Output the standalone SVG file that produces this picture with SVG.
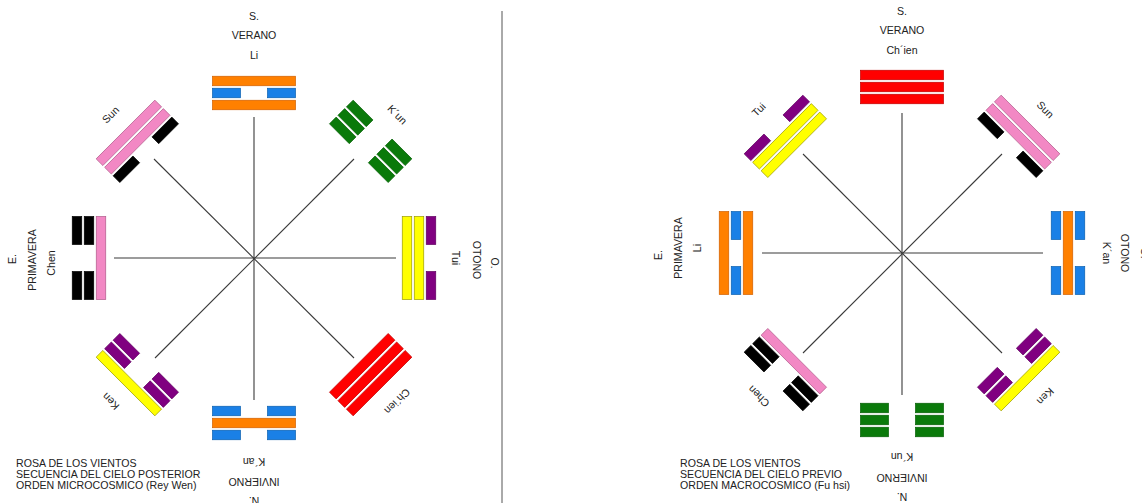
<svg xmlns="http://www.w3.org/2000/svg" xmlns:xlink="http://www.w3.org/1999/xlink" width="1142" height="503" viewBox="0 0 1142 503">
<style>
text{font-family:"Liberation Sans",Arial,sans-serif;font-size:10.6px;fill:#222;}
.lbl{text-anchor:middle;}
.spoke{stroke:#3a3a3a;stroke-width:1.1;fill:none;}
.or{fill:#FF8000;stroke:#D06000;stroke-width:0.7;}
.bl{fill:#1A80E6;stroke:#0A60B0;stroke-width:0.7;}
.pk{fill:#F288C4;stroke:#B05A8A;stroke-width:0.7;}
.bk{fill:#000;stroke:#000;stroke-width:0.7;}
.ye{fill:#FFFF00;stroke:#9A9A00;stroke-width:0.7;}
.pu{fill:#800080;stroke:#600060;stroke-width:0.7;}
.rd{fill:#FF0000;stroke:#C00000;stroke-width:0.7;}
.gr{fill:#0A7A0A;stroke:#066006;stroke-width:0.7;}
</style>
<defs>
<g id="yang"><rect x="-41.5" y="-4.75" width="83" height="9.5"/></g>
<g id="yin"><rect x="-41.5" y="-4.75" width="28" height="9.5"/><rect x="13.5" y="-4.75" width="28" height="9.5"/></g>
</defs>
<rect width="1142" height="503" fill="#fff"/>
<line x1="502" y1="11" x2="502" y2="503" stroke="#555" stroke-width="1"/>

<g id="connectors">
<g transform="translate(254,258)">
<line class="spoke" x1="0" y1="-141" x2="0" y2="142"/>
<line class="spoke" x1="-140" y1="0" x2="142" y2="0"/>
<line class="spoke" x1="-100" y1="-99" x2="100" y2="100"/>
<line class="spoke" x1="100" y1="-99" x2="-99" y2="100"/>
</g>
<g transform="translate(902,253)">
<line class="spoke" x1="0" y1="-140" x2="0" y2="142"/>
<line class="spoke" x1="-140" y1="0" x2="141" y2="0"/>
<line class="spoke" x1="-99" y1="-99" x2="100" y2="100"/>
<line class="spoke" x1="100" y1="-99" x2="-99" y2="100"/>
</g>
</g>

<!-- Left diagram: King Wen -->
<g id="L-li" transform="translate(254,258) rotate(0) translate(0,-165)">
<use xlink:href="#yang" class="or" y="-12"/><use xlink:href="#yin" class="bl" y="0"/><use xlink:href="#yang" class="or" y="12"/>
</g>
<g id="L-kun" transform="translate(254,258) rotate(45) translate(0,-165)">
<use xlink:href="#yin" class="gr" y="-12"/><use xlink:href="#yin" class="gr" y="0"/><use xlink:href="#yin" class="gr" y="12"/>
</g>
<g id="L-tui" transform="translate(254,258) rotate(90) translate(0,-165)">
<use xlink:href="#yin" class="pu" y="-12"/><use xlink:href="#yang" class="ye" y="0"/><use xlink:href="#yang" class="ye" y="12"/>
</g>
<g id="L-chien" transform="translate(254,258) rotate(135) translate(0,-165)">
<use xlink:href="#yang" class="rd" y="-12"/><use xlink:href="#yang" class="rd" y="0"/><use xlink:href="#yang" class="rd" y="12"/>
</g>
<g id="L-kan" transform="translate(254,258) rotate(180) translate(0,-165)">
<use xlink:href="#yin" class="bl" y="-12"/><use xlink:href="#yang" class="or" y="0"/><use xlink:href="#yin" class="bl" y="12"/>
</g>
<g id="L-ken" transform="translate(254,258) rotate(225) translate(0,-165)">
<use xlink:href="#yang" class="ye" y="-12"/><use xlink:href="#yin" class="pu" y="0"/><use xlink:href="#yin" class="pu" y="12"/>
</g>
<g id="L-chen" transform="translate(254,258) rotate(270) translate(0,-165)">
<use xlink:href="#yin" class="bk" y="-12"/><use xlink:href="#yin" class="bk" y="0"/><use xlink:href="#yang" class="pk" y="12"/>
</g>
<g id="L-sun" transform="translate(254,258) rotate(315) translate(0,-165)">
<use xlink:href="#yang" class="pk" y="-12"/><use xlink:href="#yang" class="pk" y="0"/><use xlink:href="#yin" class="bk" y="12"/>
</g>

<g id="L-labels">
<text class="lbl" transform="translate(254,258) rotate(0) translate(0,-242)" y="4">S.</text>
<text class="lbl" transform="translate(254,258) rotate(0) translate(0,-223)" y="4">VERANO</text>
<text class="lbl" transform="translate(254,258) rotate(0) translate(0,-203)" y="4">Li</text>
<text class="lbl" transform="translate(254,258) rotate(45) translate(0,-203)" y="4">K´un</text>
<text class="lbl" transform="translate(254,258) rotate(90) translate(0,-202)" y="4">Tui</text>
<text class="lbl" transform="translate(254,258) rotate(90) translate(2,-223)" y="4">OTONO</text>
<text class="lbl" transform="translate(254,258) rotate(90) translate(5,-241)" y="4">O.</text>
<text class="lbl" transform="translate(254,258) rotate(135) translate(0,-203)" y="4">Ch´ien</text>
<text class="lbl" transform="translate(254,258) rotate(180) translate(0,-204)" y="4">K´an</text>
<text class="lbl" transform="translate(254,258) rotate(180) translate(0,-224)" y="4">INVIERNO</text>
<text class="lbl" transform="translate(254,258) rotate(180) translate(0,-243)" y="4">N.</text>
<text class="lbl" transform="translate(254,258) rotate(225) translate(0,-203)" y="4">Ken</text>
<text class="lbl" transform="translate(254,258) rotate(270) translate(-5,-203)" y="4">Chen</text>
<text class="lbl" transform="translate(254,258) rotate(270) translate(-2,-222)" y="4">PRIMAVERA</text>
<text class="lbl" transform="translate(254,258) rotate(270) translate(-1,-242)" y="4">E.</text>
<text class="lbl" transform="translate(254,258) rotate(315) translate(0,-203)" y="4">Sun</text>
</g>
<g id="L-caption">
<text x="16" y="467">ROSA DE LOS VIENTOS</text>
<text x="16" y="478">SECUENCIA DEL CIELO POSTERIOR</text>
<text x="16" y="489">ORDEN MICROCOSMICO (Rey Wen)</text>
</g>

<!-- Right diagram: Fu Hsi -->
<g id="R-chien" transform="translate(902,253) rotate(0) translate(0,-166)">
<use xlink:href="#yang" class="rd" y="-12"/><use xlink:href="#yang" class="rd" y="0"/><use xlink:href="#yang" class="rd" y="12"/>
</g>
<g id="R-sun" transform="translate(902,253) rotate(45) translate(0,-165)">
<use xlink:href="#yang" class="pk" y="-12"/><use xlink:href="#yang" class="pk" y="0"/><use xlink:href="#yin" class="bk" y="12"/>
</g>
<g id="R-kan" transform="translate(902,253) rotate(90) translate(0,-166)">
<use xlink:href="#yin" class="bl" y="-12"/><use xlink:href="#yang" class="or" y="0"/><use xlink:href="#yin" class="bl" y="12"/>
</g>
<g id="R-ken" transform="translate(902,253) rotate(135) translate(0,-165)">
<use xlink:href="#yang" class="ye" y="-12"/><use xlink:href="#yin" class="pu" y="0"/><use xlink:href="#yin" class="pu" y="12"/>
</g>
<g id="R-kun" transform="translate(902,253) rotate(180) translate(0,-167)">
<use xlink:href="#yin" class="gr" y="-12"/><use xlink:href="#yin" class="gr" y="0"/><use xlink:href="#yin" class="gr" y="12"/>
</g>
<g id="R-chen" transform="translate(902,253) rotate(225) translate(0,-165)">
<use xlink:href="#yin" class="bk" y="-12"/><use xlink:href="#yin" class="bk" y="0"/><use xlink:href="#yang" class="pk" y="12"/>
</g>
<g id="R-li" transform="translate(902,253) rotate(270) translate(0,-166)">
<use xlink:href="#yang" class="or" y="-12"/><use xlink:href="#yin" class="bl" y="0"/><use xlink:href="#yang" class="or" y="12"/>
</g>
<g id="R-tui" transform="translate(902,253) rotate(315) translate(0,-165)">
<use xlink:href="#yin" class="pu" y="-12"/><use xlink:href="#yang" class="ye" y="0"/><use xlink:href="#yang" class="ye" y="12"/>
</g>

<g id="R-labels">
<text class="lbl" transform="translate(902,253) rotate(0) translate(0,-242)" y="4">S.</text>
<text class="lbl" transform="translate(902,253) rotate(0) translate(0,-223)" y="4">VERANO</text>
<text class="lbl" transform="translate(902,253) rotate(0) translate(0,-203)" y="4">Ch´ien</text>
<text class="lbl" transform="translate(902,253) rotate(45) translate(0,-203)" y="4">Sun</text>
<text class="lbl" transform="translate(902,253) rotate(90) translate(0,-205)" y="4">K´an</text>
<text class="lbl" transform="translate(902,253) rotate(90) translate(0,-223)" y="4">OTONO</text>
<text class="lbl" transform="translate(902,253) rotate(90) translate(0,-243)" y="4">O.</text>
<text class="lbl" transform="translate(902,253) rotate(135) translate(0,-203)" y="4">Ken</text>
<text class="lbl" transform="translate(902,253) rotate(180) translate(0,-204)" y="4">K´un</text>
<text class="lbl" transform="translate(902,253) rotate(180) translate(0,-225)" y="4">INVIERNO</text>
<text class="lbl" transform="translate(902,253) rotate(180) translate(0,-244)" y="4">N.</text>
<text class="lbl" transform="translate(902,253) rotate(225) translate(0,-203)" y="4">Chen</text>
<text class="lbl" transform="translate(902,253) rotate(270) translate(5,-205)" y="4">Li</text>
<text class="lbl" transform="translate(902,253) rotate(270) translate(5,-224)" y="4">PRIMAVERA</text>
<text class="lbl" transform="translate(902,253) rotate(270) translate(-2,-244)" y="4">E.</text>
<text class="lbl" transform="translate(902,253) rotate(315) translate(0,-203)" y="4">Tui</text>
</g>
<g id="R-caption">
<text x="680" y="467">ROSA DE LOS VIENTOS</text>
<text x="680" y="478">SECUENCIA DEL CIELO PREVIO</text>
<text x="680" y="489">ORDEN MACROCOSMICO (Fu hsi)</text>
</g>
</svg>
